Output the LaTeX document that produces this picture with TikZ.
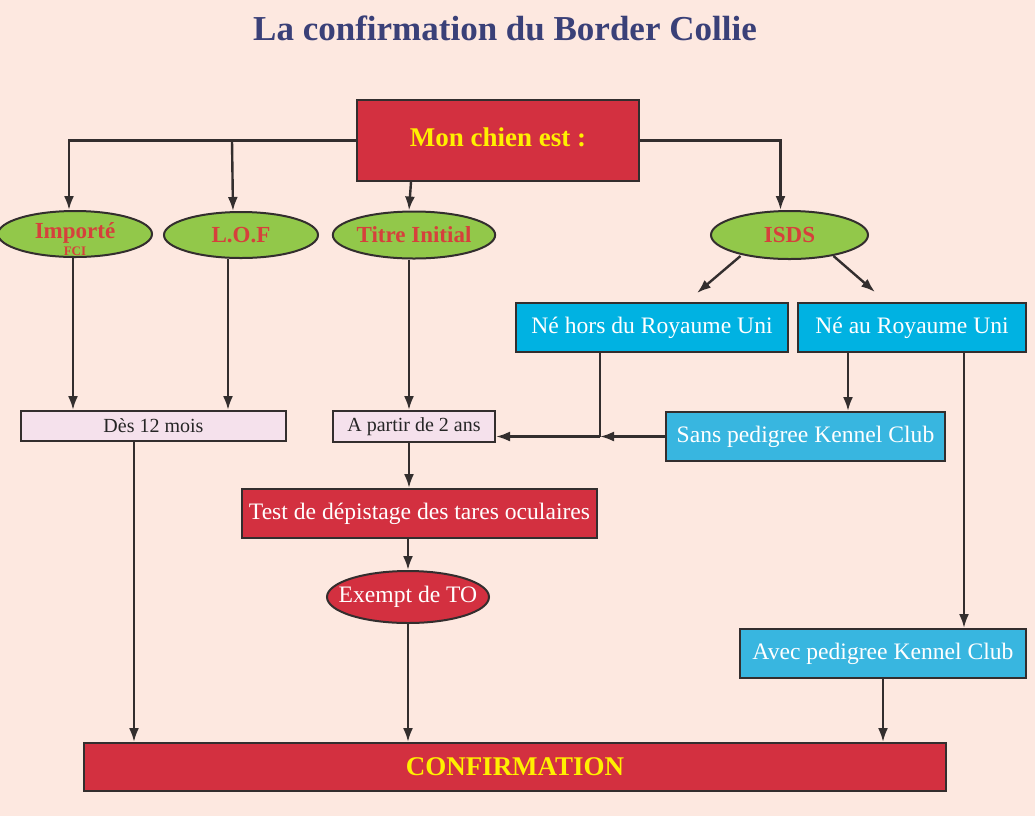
\documentclass[tikz,border=0pt]{standalone}
\usepackage{fontspec}
\setmainfont{Liberation Serif}
\usetikzlibrary{positioning,shapes.geometric,calc,arrows.meta}
\definecolor{peach}{RGB}{253,232,224}
\definecolor{boxred}{RGB}{211,48,64}
\definecolor{ovalgreen}{RGB}{146,200,74}
\definecolor{nebleu}{RGB}{0,178,226}
\definecolor{kcbleu}{RGB}{56,182,224}
\definecolor{agepink}{RGB}{245,225,236}
\definecolor{titlenavy}{RGB}{58,64,120}
\definecolor{labelred}{RGB}{214,64,60}
\definecolor{confyellow}{RGB}{255,240,0}
\definecolor{lineclr}{RGB}{51,46,46}
\tikzset{
	>={Latex[length=7pt,width=5pt]},
	rednode/.style={rectangle, draw=lineclr, fill=boxred, line width=1pt, inner sep=0pt},
	greenoval/.style={ellipse, draw=lineclr, fill=ovalgreen, line width=1pt, inner sep=0pt, text=labelred, font=\fontsize{11.5}{13}\selectfont\bfseries},
	redoval/.style={ellipse, draw=lineclr, fill=boxred, line width=1pt, inner sep=0pt, text=white, font=\fontsize{11.8}{14}\selectfont},
	bluenode/.style={rectangle, draw=lineclr, fill=nebleu, line width=1pt, inner sep=0pt, text=white, font=\fontsize{11.8}{14}\selectfont},
	agenode/.style={rectangle, draw=lineclr, fill=agepink, line width=1pt, inner sep=0pt, text=black!85, font=\fontsize{10}{12}\selectfont}
}
\begin{document}
\begin{tikzpicture}[x=0.5pt,y=-0.5pt]
	\fill[peach] (0,0) rectangle (1035,816);
	\useasboundingbox (0,0) rectangle (1035,816);
	\node[text=titlenavy, font=\fontsize{17.5}{20}\selectfont\bfseries] at (505,28) (titre) {La confirmation du Border Collie};
	
	\node[rednode, minimum width=141pt, minimum height=40.5pt, text=confyellow, font=\fontsize{13.5}{16}\selectfont\bfseries] at (498,140.5) (mon) {\raisebox{3pt}{Mon chien est :}};
	\node[greenoval, inner ysep=-3pt, minimum width=77pt, minimum height=23pt] at (75,234) (imp) {\shortstack{\rule{0pt}{13pt}Importé\\[-1pt]{\fontsize{6.5}{6.5}\selectfont FCI}}};
	\node[greenoval, minimum width=77pt, minimum height=23pt] at (241,235) (lof) {L.O.F};
	\node[greenoval, minimum width=81pt, minimum height=23.5pt] at (414,235) (tit) {Titre Initial};
	\node[greenoval, minimum width=78.5pt, minimum height=24pt] at (789.5,235) (isds) {ISDS};
	
	\node[bluenode, minimum width=136pt, minimum height=24.5pt] at (652,327.5) (nehors) {Né hors du Royaume Uni};
	\node[bluenode, minimum width=114pt, minimum height=24.5pt] at (912,327.5) (neau) {Né au Royaume Uni};
	\node[bluenode, fill=kcbleu, minimum width=139.5pt, minimum height=24.5pt] at (805.5,436.5) (sans) {Sans pedigree Kennel Club};
	\node[bluenode, fill=kcbleu, minimum width=143pt, minimum height=24.5pt] at (883,653.5) (avec) {Avec pedigree Kennel Club};
	
	\node[agenode, minimum width=132.5pt, minimum height=15pt] at (153.5,426) (des) {Dès 12 mois};
	\node[agenode, minimum width=81pt, minimum height=15.5pt] at (414,426.5) (apar) {A partir de 2 ans};
	
	\node[rednode, minimum width=177.5pt, minimum height=24.5pt, text=white, font=\fontsize{11.8}{14}\selectfont] at (419.5,513.5) (test) {Test de dépistage des tares oculaires};
	\node[redoval, inner xsep=-6.5pt, minimum width=81pt, minimum height=26pt] at (408,597) (exempt) {Exempt de TO};
	\node[rednode, minimum width=431pt, minimum height=24pt, text=confyellow, font=\fontsize{13.5}{16}\selectfont\bfseries] at (515,767) (conf) {CONFIRMATION};
	
	\draw[->, very thick, lineclr] (mon.west) -| ($(imp.north)+(-6,0)$);
	\draw[->, very thick, lineclr] ($(mon.west)+(-124,0)$) -- ($(lof.north)+(-8,0)$);
	\draw[->, very thick, lineclr] ($(mon.south)+(-87,0)$) -- ($(tit.north)+(-5,0)$);
	\draw[->, very thick, lineclr] (mon.east) -| ($(isds.north)+(-9,0)$);
	
	\draw[->, very thick, lineclr] ($(imp.south)+(-2,0)$) -- ($(des.north)+(-80.5,0)$);
	\draw[->, very thick, lineclr] ($(lof.south)+(-13,0)$) -- ($(des.north)+(74.5,0)$);
	\draw[->, very thick, lineclr] ($(tit.south)+(-5,0)$) -- ($(apar.north)+(-5,0)$);
	
	\draw[->, very thick, lineclr] ($(isds.center)+(-49,21)$) -- ($(nehors.north)+(45,-9)$);
	\draw[->, very thick, lineclr] ($(isds.center)+(44,21)$) -- ($(neau.north)+(-37,-10)$);
	
	\path (nehors.south) ++(-52,0) coordinate (jx);
	\coordinate (jn) at (jx |- sans.west);
	\draw[very thick, lineclr] (jx) -- (jn);
	\draw[->, very thick, lineclr] (sans.west) -- (jn);
	\draw[->, very thick, lineclr] (jn) -- (jn -| apar.east);
	\draw[->, very thick, lineclr] ($(neau.south)+(-64,0)$) -- ($(sans.north)+(42.5,0)$);
	\draw[->, very thick, lineclr] ($(neau.south)+(52,0)$) -- ($(avec.north)+(81,0)$);
	
	\draw[->, very thick, lineclr] ($(apar.south)+(-5,0)$) -- ($(test.north)+(-10.5,0)$);
	\draw[->, very thick, lineclr] ($(test.south)+(-11.5,0)$) -- (exempt.north);
	\draw[->, very thick, lineclr] (exempt.south) -- (exempt.south |- conf.north);
	\draw[->, very thick, lineclr] ($(des.south)+(-19.5,0)$) -- ($(conf.north)+(-381,0)$);
	\draw[->, very thick, lineclr] (avec.south) -- (avec.south |- conf.north);
\end{tikzpicture}
\end{document}
